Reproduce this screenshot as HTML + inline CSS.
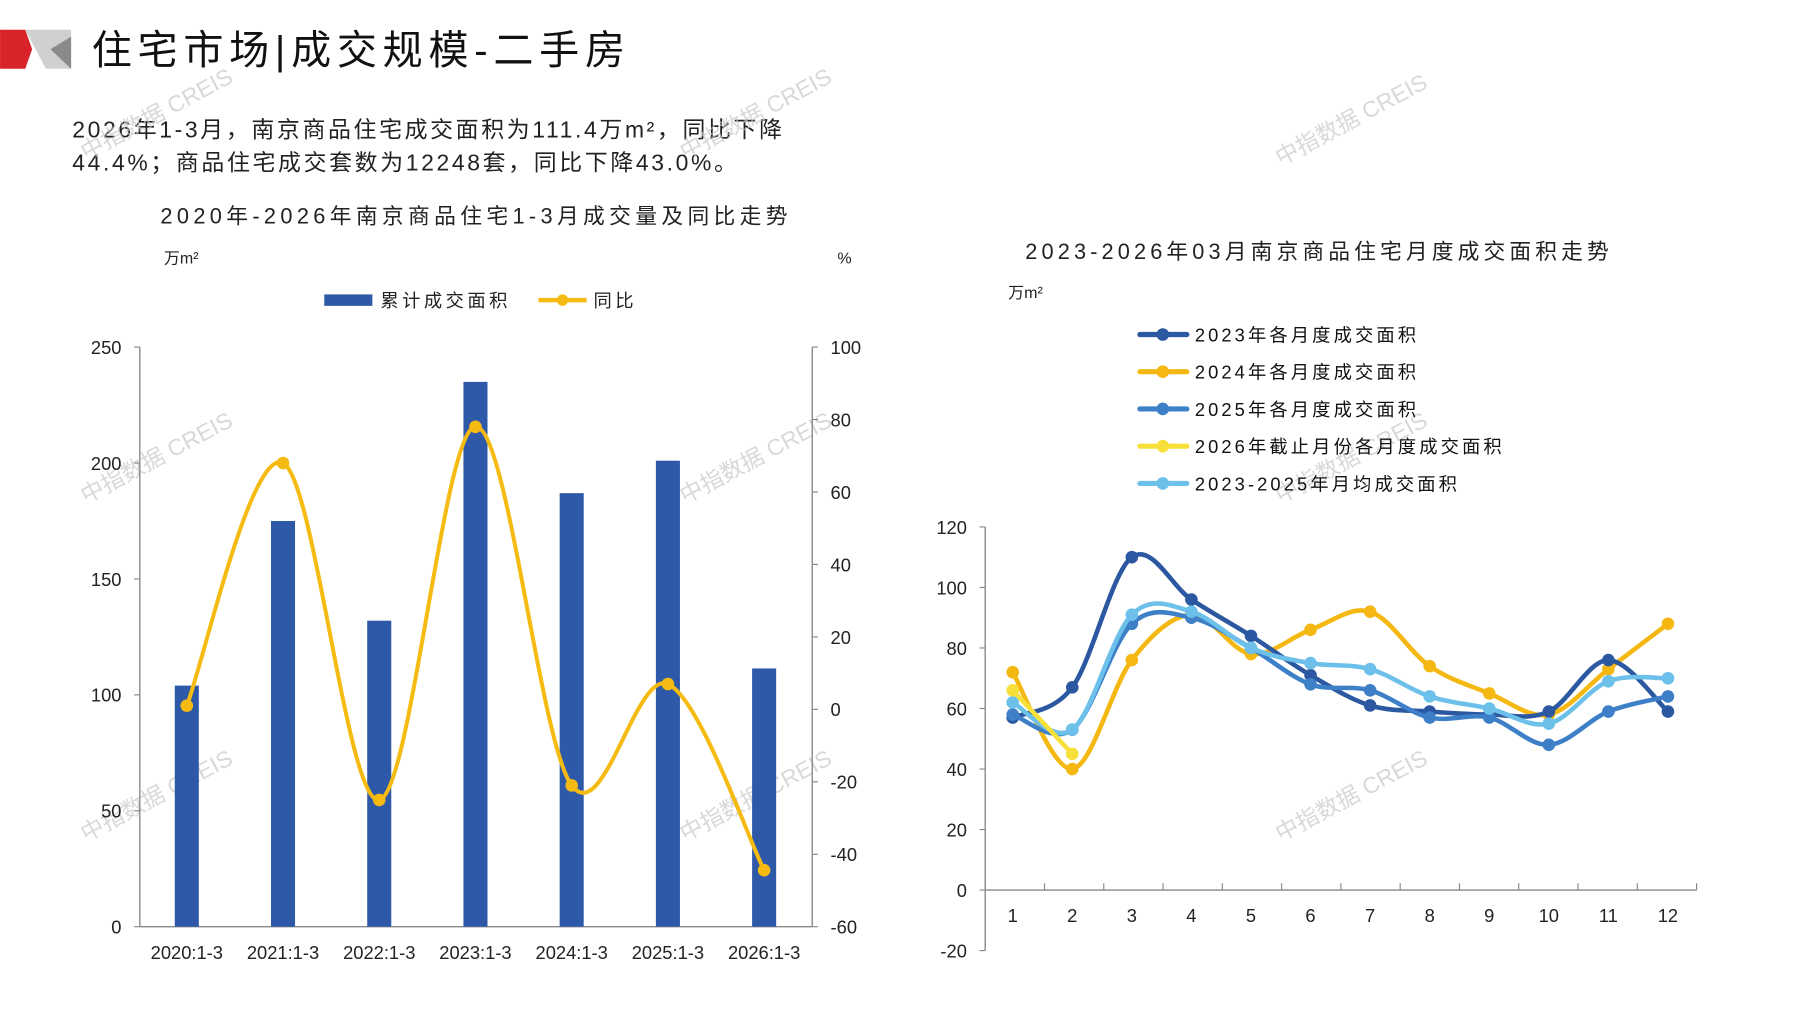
<!DOCTYPE html>
<html><head><meta charset="utf-8"><style>
html,body{margin:0;padding:0;background:#fff;}
svg{display:block;}
text{font-family:"Liberation Sans","Noto Sans CJK SC",sans-serif;}
</style></head><body>
<svg id="s" width="1797" height="1010" viewBox="0 0 1568.6 881.7" xmlns="http://www.w3.org/2000/svg">
<rect width="1568.6" height="881.7" fill="#fff"/>
<polygon points="0,26 22,26 28,43 22,60 0,60" fill="#d9232a"/>
<polygon points="22,26 62,26 62,60 40,60" fill="#d0d0d0"/>
<polygon points="44,43 62,32 62,60" fill="#8a8a8a"/>
<text x="80" y="56" font-size="35" fill="#111" font-family="Noto Sans CJK SC" letter-spacing="5">住宅市场|成交规模-二手房</text>
<text x="63" y="120" font-size="20" fill="#222" letter-spacing="2.3">2026年1-3月，南京商品住宅成交面积为111.4万m²，同比下降</text>
<text x="63" y="149" font-size="20" fill="#222" letter-spacing="2.3">44.4%；商品住宅成交套数为12248套，同比下降43.0%。</text>
<g fill="#c8c8c8" font-size="20" opacity="0.7">
<text transform="translate(75,140) rotate(-28)">中指数据 CREIS</text>
<text transform="translate(598,140) rotate(-28)">中指数据 CREIS</text>
<text transform="translate(1118,145) rotate(-28)">中指数据 CREIS</text>
<text transform="translate(75,440) rotate(-28)">中指数据 CREIS</text>
<text transform="translate(598,440) rotate(-28)">中指数据 CREIS</text>
<text transform="translate(1118,440) rotate(-28)">中指数据 CREIS</text>
<text transform="translate(75,735) rotate(-28)">中指数据 CREIS</text>
<text transform="translate(598,735) rotate(-28)">中指数据 CREIS</text>
<text transform="translate(1118,735) rotate(-28)">中指数据 CREIS</text>
</g>
<text x="140" y="195" font-size="19" fill="#222" letter-spacing="3.8">2020年-2026年南京商品住宅1-3月成交量及同比走势</text>
<text x="143" y="230" font-size="14" fill="#222">万m²</text>
<text x="731" y="230" font-size="14" fill="#222">%</text>
<rect x="283" y="257" width="42" height="10" fill="#2e59a8"/>
<text x="332" y="268" font-size="16" fill="#222" letter-spacing="3">累计成交面积</text>
<line x1="470" y1="262" x2="512" y2="262" stroke="#f5bb12" stroke-width="4"/>
<circle cx="491" cy="262" r="5" fill="#f5bb12"/>
<text x="518" y="268" font-size="16" fill="#222" letter-spacing="3">同比</text>
<g id="left"></g>
<text x="895" y="226" font-size="19" fill="#222" letter-spacing="3.6">2023-2026年03月南京商品住宅月度成交面积走势</text>
<text x="880" y="260" font-size="14" fill="#222">万m²</text>
<g id="leg"></g>
<g id="right"></g>
</svg>
<script>
var NS="http://www.w3.org/2000/svg";
function el(p,t,a,txt){var e=document.createElementNS(NS,t);for(var k in a)e.setAttribute(k,a[k]);if(txt!==undefined)e.textContent=txt;p.appendChild(e);return e;}
function smooth(pts){var d="M"+pts[0][0]+","+pts[0][1];for(var i=0;i<pts.length-1;i++){var p0=pts[i-1]||pts[i],p1=pts[i],p2=pts[i+1],p3=pts[i+2]||p2;var c1x=p1[0]+(p2[0]-p0[0])/6,c1y=p1[1]+(p2[1]-p0[1])/6,c2x=p2[0]-(p3[0]-p1[0])/6,c2y=p2[1]-(p3[1]-p1[1])/6;d+=" C"+c1x+","+c1y+" "+c2x+","+c2y+" "+p2[0]+","+p2[1];}return d;}
var L=document.getElementById("left");
var x0=122,x1=709,yT=303,yB=809;
el(L,"line",{x1:x0,y1:yT,x2:x0,y2:yB,stroke:"#888","stroke-width":1.2});
el(L,"line",{x1:x1,y1:yT,x2:x1,y2:yB,stroke:"#888","stroke-width":1.2});
el(L,"line",{x1:x0,y1:yB,x2:x1,y2:yB,stroke:"#888","stroke-width":1.2});
for(var i=0;i<=5;i++){var y=yB-(yB-yT)*i/5;el(L,"line",{x1:x0-5,y1:y,x2:x0,y2:y,stroke:"#888"});el(L,"text",{x:x0-16,y:y+6,"font-size":16,"text-anchor":"end",fill:"#222"},String(i*50));}
for(var i=0;i<=8;i++){var y=yB-(yB-yT)*i/8;el(L,"line",{x1:x1,y1:y,x2:x1+5,y2:y,stroke:"#888"});el(L,"text",{x:x1+16,y:y+6,"font-size":16,fill:"#222"},String(-60+i*20));}
var bars=[104,175,132,235,187,201,111.4],yoy=[1,68,-25,78,-21,7,-44.4];
var labs=["2020:1-3","2021:1-3","2022:1-3","2023:1-3","2024:1-3","2025:1-3","2026:1-3"];
var pts=[];
for(var i=0;i<7;i++){var cx=163+i*84;var h=bars[i]/250*(yB-yT);el(L,"rect",{x:cx-10.5,y:yB-h,width:21,height:h,fill:"#2e59a8"});
el(L,"text",{x:cx,y:837,"font-size":16,"text-anchor":"middle",fill:"#222"},labs[i]);
pts.push([cx,yB-(yoy[i]+60)/160*(yB-yT)]);}
el(L,"path",{d:smooth(pts),fill:"none",stroke:"#f5bb12","stroke-width":3.5});
pts.forEach(function(p){el(L,"circle",{cx:p[0],cy:p[1],r:5.5,fill:"#f5bb12"});});
var G=document.getElementById("leg");
var cols=["#2b58a0","#f5b812","#3d80c8","#f8e03a","#6cc0ea"];
var names=["2023年各月度成交面积","2024年各月度成交面积","2025年各月度成交面积","2026年截止月份各月度成交面积","2023-2025年月均成交面积"];
for(var i=0;i<5;i++){var y=292+i*32.5;el(G,"line",{x1:995,y1:y,x2:1036,y2:y,stroke:cols[i],"stroke-width":4.5,"stroke-linecap":"round"});el(G,"circle",{cx:1015,cy:y,r:5.5,fill:cols[i]});el(G,"text",{x:1043,y:y+6,"font-size":16,fill:"#111","letter-spacing":2.7},names[i]);}
var R=document.getElementById("right");
var ax=860,ay0=777,per=(777-460)/6,xr=1481;
function Y(v){return ay0-v/20*per;}
el(R,"line",{x1:ax,y1:Y(120),x2:ax,y2:Y(-20),stroke:"#888","stroke-width":1.2});
el(R,"line",{x1:ax,y1:ay0,x2:xr,y2:ay0,stroke:"#888","stroke-width":1.2});
for(var v=-20;v<=120;v+=20){var y=Y(v);el(R,"line",{x1:ax-5,y1:y,x2:ax,y2:y,stroke:"#888"});el(R,"text",{x:ax-16,y:y+6,"font-size":16,"text-anchor":"end",fill:"#222"},String(v));}
for(var m=0;m<=12;m++){var x=ax+(xr-ax)*m/12;el(R,"line",{x1:x,y1:ay0,x2:x,y2:ay0-6,stroke:"#888"});}
for(var m=1;m<=12;m++){el(R,"text",{x:884+(m-1)*52,y:805,"font-size":16,"text-anchor":"middle",fill:"#222"},String(m));}
var data=[
[57,67,110,96,84,71,61,59,58,59,76,59],
[72,40,76,91,78,86,92,74,65,58,73,88],
[58,53,88,90,80,68,66,57,57,48,59,64],
[66,45],
[62,53,91,92,80,75,73,64,60,55,69,70]];
var order=[1,0,2,4,3];
order.forEach(function(k){var p=data[k].map(function(v,i){return [884+i*52,Y(v)];});el(R,"path",{d:smooth(p),fill:"none",stroke:cols[k],"stroke-width":4});p.forEach(function(q){el(R,"circle",{cx:q[0],cy:q[1],r:5.5,fill:cols[k]});});});
</script>
</body></html>
